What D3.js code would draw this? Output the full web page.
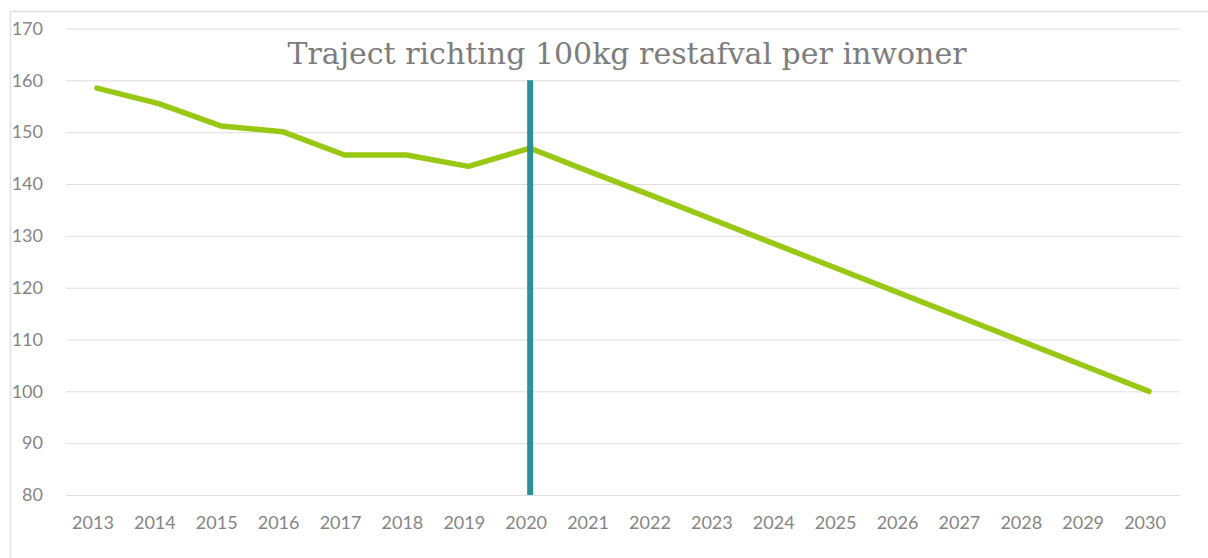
<!DOCTYPE html>
<html>
<head>
<meta charset="utf-8">
<script src="https://cdn.jsdelivr.net/npm/d3@7"></script>
<style>
  body { margin: 0; background: #fff; }
  svg text { font-family: "Lato", "Noto Sans", sans-serif; }
</style>
</head>
<body>
<div id="chart"></div>
<script>
// data
var years = ["2013", "2014", "2015", "2016", "2017", "2018", "2019", "2020", "2021",
             "2022", "2023", "2024", "2025", "2026", "2027", "2028", "2029", "2030"];
var restafval = [158.5, 155.5, 151.2, 150.1, 145.6, 145.6, 143.4, 146.9, 142.2,
                 137.6, 132.9, 128.2, 123.5, 118.8, 114.1, 109.4, 104.7, 100];
var yTicks = [80, 90, 100, 110, 120, 130, 140, 150, 160, 170];
var markerYear = "2020";
var markerRange = [80, 160];
var title = "Traject richting 100kg restafval per inwoner";

var W = 1208, H = 558;
var margin = {top: 28.5, right: 28, bottom: 63, left: 66};
var width = W - margin.left - margin.right;
var height = H - margin.top - margin.bottom;

var svg = d3.select("#chart").append("svg")
  .attr("width", W)
  .attr("height", H);

// outer frame (top and left edges visible)
svg.append("path")
  .attr("d", "M10.5," + H + "V11.5H" + W)
  .attr("fill", "none")
  .attr("stroke", "#e2e2e2")
  .attr("stroke-width", 1.5);

var g = svg.append("g")
  .attr("transform", "translate(" + margin.left + "," + margin.top + ")");

var x = d3.scaleBand().domain(years).range([0, width]);
var y = d3.scaleLinear().domain([80, 170]).range([height, 0]);

// gridlines
g.append("g")
  .call(d3.axisLeft(y).tickValues(yTicks).tickSize(-width).tickFormat(""))
  .call(function(s) {
    s.select(".domain").remove();
    s.selectAll(".tick line").attr("stroke", "#dedede").attr("stroke-width", 1);
  });

// y labels
g.append("g")
  .call(d3.axisLeft(y).tickValues(yTicks).tickSize(0).tickPadding(23))
  .call(function(s) {
    s.select(".domain").remove();
    s.selectAll("text").attr("fill", "#858585").style("font-size", "18px");
  });

// x labels
g.append("g")
  .attr("transform", "translate(0," + height + ")")
  .call(d3.axisBottom(x).tickSize(0).tickPadding(21))
  .call(function(s) {
    s.select(".domain").remove();
    s.selectAll("text").attr("fill", "#858585").style("font-size", "18px")
      .attr("dx", "-4px");
  });

// the trend line
var line = d3.line()
  .x(function(d, i) { return x(years[i]) + x.bandwidth() / 2; })
  .y(function(d) { return y(d); });

g.append("path")
  .datum(restafval)
  .attr("d", line)
  .attr("fill", "none")
  .attr("stroke", "#99c814")
  .attr("stroke-width", 5.5)
  .attr("stroke-linejoin", "round")
  .attr("stroke-linecap", "round");

// vertical marker at 2020
var mx = x(markerYear) + x.bandwidth() / 2;
g.append("line")
  .attr("x1", mx).attr("x2", mx)
  .attr("y1", y(markerRange[1])).attr("y2", y(markerRange[0]))
  .attr("stroke", "#2b9198")
  .attr("stroke-width", 6);

// title
svg.append("text")
  .attr("x", 627)
  .attr("y", 64)
  .attr("text-anchor", "middle")
  .attr("fill", "#7d7d7d")
  .style("font-family", "'DejaVu Serif', 'Liberation Serif', serif")
  .style("font-size", "30px")
  .text(title);
</script>
</body>
</html>
